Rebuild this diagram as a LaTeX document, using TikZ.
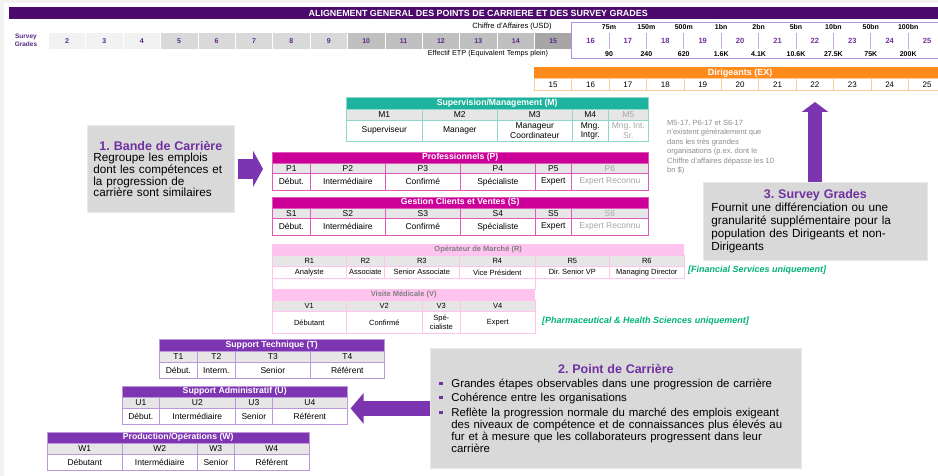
\documentclass[tikz,border=0pt]{standalone}
\usepackage{fontspec}
\setmainfont{Liberation Sans}
\usetikzlibrary{arrows.meta,calc}

\definecolor{titlebar}{HTML}{4B0A6C}
\definecolor{gradetxt}{HTML}{5B2A86}
\definecolor{expurple}{HTML}{7030A0}
\definecolor{gradeline}{HTML}{B48ED8}
\definecolor{gradesep}{HTML}{C9A8E4}
\definecolor{gfa}{HTML}{F2F2F2}
\definecolor{gfb}{HTML}{D9D9D9}
\definecolor{gfc}{HTML}{C0C0C0}
\definecolor{gfd}{HTML}{A6A6A6}
\definecolor{exorange}{HTML}{FF8A1C}
\definecolor{exline}{HTML}{FFCA99}
\definecolor{mteal}{HTML}{1DB39E}
\definecolor{mtealline}{HTML}{8FD8CC}
\definecolor{pmag}{HTML}{CC0099}
\definecolor{pmagline}{HTML}{DC5CB9}
\definecolor{rpink}{HTML}{FFC3EF}
\definecolor{rpinktxt}{HTML}{808080}
\definecolor{tviolet}{HTML}{7E35B1}
\definecolor{tvioletline}{HTML}{BE96DB}
\definecolor{rowgray}{HTML}{E6E6E6}
\definecolor{callgray}{HTML}{D9D9D9}
\definecolor{callline}{HTML}{E9E9E9}
\definecolor{arrowpurple}{HTML}{7B35B0}
\definecolor{notegray}{HTML}{8C8C8C}
\definecolor{fadedtxt}{HTML}{A6A6A6}
\definecolor{notegreen}{HTML}{00B27A}
\definecolor{pagegray}{HTML}{F2F2F2}

\newcommand{\fsz}[2]{\fontsize{#1}{#2}\selectfont}
\newcommand{\calltitle}[1]{{\centering\color{expurple}\bfseries\fsz{12.5}{14}#1\par}}
\newcommand{\sqb}{\makebox[12pt][l]{\textcolor{expurple}{\rule[2.5pt]{3.2pt}{3.2pt}}}}
\newcommand{\ptitem}[1]{{\leftskip=12pt\noindent\llap{\sqb}#1\par}\vspace{2.5pt}}

\begin{document}
\frenchspacing
\begin{tikzpicture}[x=1pt, y=-1pt]

\tikzset{
  bandhd/.style={
    fill=#1,
    text=white,
    anchor=north west,
    inner sep=0pt,
    font=\bfseries\fsz{8.7}{10}
  },
  bandcode/.style={
    draw=#1,
    fill=rowgray,
    line width=0.6pt,
    anchor=north west,
    inner sep=0pt,
    align=center,
    font=\fsz{8.5}{9.5}
  },
  bandlvl/.style={
    draw=#1,
    fill=white,
    line width=0.6pt,
    anchor=north west,
    inner sep=0pt,
    align=center,
    font=\fsz{8.5}{9.5}
  },
  gradecell/.style={
    anchor=north west,
    minimum width=37.4pt,
    minimum height=17pt,
    inner sep=0pt,
    draw=white,
    line width=0.5pt,
    text=gradetxt,
    font=\bfseries\fsz{7}{8}
  },
  exgrade/.style={
    anchor=north west,
    minimum width=37.4pt,
    minimum height=16pt,
    inner sep=0pt,
    text=expurple,
    font=\bfseries\fsz{7.5}{8}
  },
  revlabel/.style={inner sep=0pt, font=\bfseries\fsz{7}{8}},
  excell/.style={
    anchor=north west,
    draw=exline,
    line width=0.8pt,
    minimum width=37.4pt,
    minimum height=12pt,
    inner sep=0pt,
    font=\fsz{8}{9}
  },
  callout/.style={
    fill=callgray,
    draw=callline,
    line width=0.8pt,
    anchor=north west,
    align=left,
    inner ysep=0pt,
    font=\fsz{11.7}{11.7}
  },
  greennote/.style={
    anchor=west,
    inner sep=0pt,
    text=notegreen,
    font=\bfseries\itshape\fsz{9}{10}
  },
  bandarrow/.style={draw=arrowpurple, line width=20pt, -{Triangle[length=10pt, width=36pt]}},
  gradearrow/.style={draw=arrowpurple, line width=14pt, -{Triangle[length=10pt, width=26pt]}},
  pointarrow/.style={draw=arrowpurple, line width=15pt, -{Triangle[length=13pt, width=30pt]}}
}

\path[use as bounding box, clip] (0,0) rectangle (938,476);
\fill[pagegray] (0,0) rectangle (938,476);
\fill[white] (4,3) rectangle (938,476);

% Title bar and survey grade scale
\node[fill=titlebar, text=white, anchor=north west, inner sep=0pt,
  minimum width=938pt, minimum height=12pt, font=\bfseries\fsz{8.9}{10}] (title) at (9,7)
  {ALIGNEMENT GENERAL DES POINTS DE CARRIERE ET DES SURVEY GRADES};

\node[align=center, inner sep=0pt, text=gradetxt, font=\bfseries\fsz{6.5}{8.5}] (sglabel) at (26,40.5) {Survey\\Grades};
\foreach \k/\f in {2/gfa,3/gfa,4/gfa,5/gfb,6/gfb,7/gfb,8/gfb,9/gfb,10/gfc,11/gfc,12/gfc,13/gfc,14/gfc,15/gfd}
  \node[gradecell, fill=\f] (g\k) at ({48+(\k-2)*37.4},32) {\k};

\node[inner sep=0pt, font=\fsz{7.6}{8}] (ca) at (512,27) {Chiffre d'Affaires (USD)};
\node[inner sep=0pt, font=\fsz{7.3}{8}] (etp) at (488,54) {Effectif ETP (Equivalent Temps plein)};

\foreach \k in {16,...,25}
  \node[exgrade] (gs\k) at ({48+(\k-2)*37.4},33) {\k};
\draw[gradeline, line width=0.8pt] (571,22) rectangle (946,58);
\foreach \k/\rv/\fte in {17/75m/90, 18/150m/240, 19/500m/620, 20/1bn/1.6K, 21/2bn/4.1K,
    22/5bn/10.6K, 23/10bn/27.5K, 24/50bn/75K, 25/100bn/200K} {
  \draw[gradesep, line width=0.9pt] (gs\k.north west) -- (gs\k.south west);
  \node[revlabel] (rv\k) at ($(gs\k.north west)+(0,-6)$) {\rv};
  \node[revlabel] (fte\k) at ($(gs\k.south west)+(0,5)$) {\fte};
}

% Dirigeants
\node[fill=exorange, text=white, anchor=north west, inner sep=0pt, minimum width=412pt,
  minimum height=11pt, font=\bfseries\fsz{9}{10}] (exhd) at (534,67) {Dirigeants (EX)};
\foreach \k in {15,...,25}
  \node[excell] (ex\k) at ({534+(\k-15)*37.4},78) {\k};

% Supervision / Management
\node[bandhd=mteal, minimum width=302pt, minimum height=12pt] (mhd) at (346,97) {Supervision/Management (M)};
\foreach \x/\cw/\cd/\lab/\col [count=\i] in {346/76/M1/Superviseur/black, 422/75/M2/Manager/black,
    497/75/M3/{Manageur\\Coordinateur}/black, 572/36/M4/{Mng.\\Intgr.}/black, 608/40/M5/{Mng. Int.\\Sr.}/fadedtxt} {
  \node[bandcode=mtealline, minimum width=\cw pt, minimum height=11pt, text=\col] (m\i) at (\x,109) {\cd};
  \node[bandlvl=mtealline, minimum width=\cw pt, minimum height=21pt, text=\col] (mt\i) at (\x,120) {\lab};
}
\draw[mtealline, line width=0.8pt] (mhd.north west) rectangle (mt5.south east);

% Professionnels
\node[bandhd=pmag, minimum width=376pt, minimum height=11pt] (phd) at (272,152) {Professionnels (P)};
\foreach \x/\cw/\cd/\lab/\col [count=\i] in {272/38/P1/Début./black, 310/75/P2/Intermédiaire/black,
    385/75/P3/Confirmé/black, 460/75/P4/Spécialiste/black, 535/36/P5/Expert/black, 571/77/P6/Expert Reconnu/fadedtxt} {
  \node[bandcode=pmagline, minimum width=\cw pt, minimum height=10pt, text=\col] (p\i) at (\x,163) {\cd};
  \node[bandlvl=pmagline, minimum width=\cw pt, minimum height=17pt, text=\col] (pt\i) at (\x,173) {\lab};
}
\draw[pmagline, line width=0.8pt] (phd.north west) rectangle (pt6.south east);

% Gestion Clients et Ventes
\node[bandhd=pmag, minimum width=376pt, minimum height=11pt] (shd) at (272,197) {Gestion Clients et Ventes (S)};
\foreach \x/\cw/\cd/\lab/\col [count=\i] in {272/38/S1/Début./black, 310/75/S2/Intermédiaire/black,
    385/75/S3/Confirmé/black, 460/75/S4/Spécialiste/black, 535/36/S5/Expert/black, 571/77/S6/Expert Reconnu/fadedtxt} {
  \node[bandcode=pmagline, minimum width=\cw pt, minimum height=10pt, text=\col] (s\i) at (\x,208) {\cd};
  \node[bandlvl=pmagline, minimum width=\cw pt, minimum height=17pt, text=\col] (st\i) at (\x,218) {\lab};
}
\draw[pmagline, line width=0.8pt] (shd.north west) rectangle (st6.south east);

% Operateur de Marche
\node[bandhd=rpink, text=rpinktxt, font=\bfseries\fsz{7.5}{8.5}, minimum width=412pt, minimum height=11pt] (rhd) at (272,244) {Opérateur de Marché (R)};
\foreach \x/\cw/\cd/\lab [count=\i] in {272/74/R1/Analyste, 346/38/R2/Associate, 384/75/R3/Senior Associate,
    459/76/R4/Vice Président, 535/74/R5/Dir. Senior VP, 609/75/R6/Managing Director} {
  \node[bandcode=rpink, font=\fsz{7.5}{8.5}, minimum width=\cw pt, minimum height=11pt] (r\i) at (\x,255) {\cd};
  \node[bandlvl=rpink, font=\fsz{7.5}{8.5}, minimum width=\cw pt, minimum height=12pt] (rt\i) at (\x,266) {\lab};
}
\node[greennote] (fsnote) at (688,270) {[Financial Services uniquement]};

% Visite Medicale
\node[bandlvl=rpink, minimum width=263pt, minimum height=11pt] (vgap) at (272,278) {};
\node[bandhd=rpink, text=rpinktxt, font=\bfseries\fsz{7.5}{8.5}, minimum width=263pt, minimum height=11pt] (vhd) at (272,289) {Visite Médicale (V)};
\foreach \x/\cw/\cd/\lab [count=\i] in {272/74/V1/Débutant, 346/76/V2/Confirmé, 422/38/V3/{Spé-\\cialiste}, 460/75/V4/Expert} {
  \node[bandcode=rpink, font=\fsz{7.5}{8.5}, minimum width=\cw pt, minimum height=11pt] (v\i) at (\x,300) {\cd};
  \node[bandlvl=rpink, font=\fsz{7.5}{8.5}, minimum width=\cw pt, minimum height=22pt] (vt\i) at (\x,311) {\lab};
}
\node[greennote] (phnote) at (542,321) {[Pharmaceutical \& Health Sciences uniquement]};

% Support Technique / Administratif / Production
\node[bandhd=tviolet, minimum width=225pt, minimum height=12pt] (thd) at (159,339) {Support Technique (T)};
\foreach \x/\cw/\cd/\lab [count=\i] in {159/38/T1/Début., 197/38/T2/Interm., 235/75/T3/Senior, 310/74/T4/Référent} {
  \node[bandcode=tvioletline, minimum width=\cw pt, minimum height=11pt] (t\i) at (\x,351) {\cd};
  \node[bandlvl=tvioletline, minimum width=\cw pt, minimum height=16pt] (tt\i) at (\x,362) {\lab};
}
\draw[tvioletline, line width=0.8pt] (thd.north west) rectangle (tt4.south east);

\node[bandhd=tviolet, minimum width=225pt, minimum height=11pt] (uhd) at (122,386) {Support Administratif (U)};
\foreach \x/\cw/\cd/\lab [count=\i] in {122/37/U1/Début., 159/76/U2/Intermédiaire, 235/37/U3/Senior, 272/75/U4/Référent} {
  \node[bandcode=tvioletline, minimum width=\cw pt, minimum height=11pt] (u\i) at (\x,397) {\cd};
  \node[bandlvl=tvioletline, minimum width=\cw pt, minimum height=16pt] (ut\i) at (\x,408) {\lab};
}
\draw[tvioletline, line width=0.8pt] (uhd.north west) rectangle (ut4.south east);

\node[bandhd=tviolet, minimum width=262pt, minimum height=11pt] (whd) at (47,432) {Production/Opérations (W)};
\foreach \x/\cw/\cd/\lab [count=\i] in {47/75/W1/Débutant, 122/75/W2/Intermédiaire, 197/37/W3/Senior, 234/75/W4/Référent} {
  \node[bandcode=tvioletline, minimum width=\cw pt, minimum height=11pt] (w\i) at (\x,443) {\cd};
  \node[bandlvl=tvioletline, minimum width=\cw pt, minimum height=16pt] (wt\i) at (\x,454) {\lab};
}
\draw[tvioletline, line width=0.8pt] (whd.north west) rectangle (wt4.south east);

% Side note on the largest organisations
\node[anchor=north west, inner sep=0pt, align=left, text=notegray, font=\fsz{7.5}{9.5}] (bignote) at (667,120) {%
  M5-17, P6-17 et S6-17\\
  n'existent généralement que\\
  dans les très grandes\\
  organisations (p.ex. dont le\\
  Chiffre d'affaires dépasse les 10\\
  bn \$)};

% Callouts
\node[callout, inner xsep=6pt, text width=135pt, minimum width=147pt, minimum height=87pt] (band) at (87,125) {%
  \calltitle{1. Bande de Carrière}
  Regroupe les emplois\\
  dont les compétences et\\
  la progression de\\
  carrière sont similaires};

\node[callout, inner xsep=8pt, text width=208pt, minimum width=224pt, minimum height=78pt,
  font=\fsz{11.7}{12.9}] (sg) at (703,182) {%
  \calltitle{3. Survey Grades}
  Fournit une différenciation ou une\\
  granularité supplémentaire pour la\\
  population des Dirigeants et non-\\
  Dirigeants};

\node[callout, inner xsep=9pt, text width=353pt, minimum width=371pt, minimum height=120pt,
  font=\fsz{11.4}{12}] (pc) at (430,348) {%
  \calltitle{2. Point de Carrière}\vspace{2pt}
  \ptitem{Grandes étapes observables dans une progression de carrière}
  \ptitem{Cohérence entre les organisations}
  \ptitem{Reflète la progression normale du marché des emplois exigeant\\
    des niveaux de compétence et de connaissances plus élevés au\\
    fur et à mesure que les collaborateurs progressent dans leur\\
    carrière}};

% Block arrows
\coordinate (sgtip) at (815,102);
\draw[bandarrow, shorten <=3pt, shorten >=9pt] (band.east) -- (band.east -| phd.west);
\draw[gradearrow] (sgtip |- sg.north) -- (sgtip);
\draw[pointarrow, shorten >=3pt] (pc.west) -- (pc.west -| ut4.east);

\end{tikzpicture}
\end{document}
